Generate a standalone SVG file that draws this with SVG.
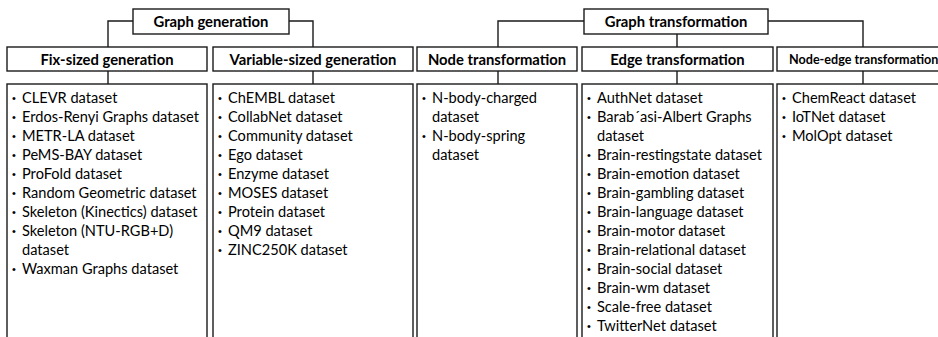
<svg xmlns="http://www.w3.org/2000/svg" width="938" height="337" viewBox="0 0 938 337">
<style>
.box{fill:#fff;stroke:#1a1a1a;stroke-width:1.4}
.ln{fill:none;stroke:#1a1a1a;stroke-width:1.4}
.h{font-family:Lato,"Liberation Sans",sans-serif;font-weight:bold;font-size:14.8px;fill:#000;text-anchor:middle}
.hs{font-family:Lato,"Liberation Sans",sans-serif;font-weight:bold;font-size:12.6px;fill:#000}
.t{font-family:Lato,"Liberation Sans",sans-serif;font-size:14.6px;fill:#000}
.b{font-family:"Liberation Sans",sans-serif;font-size:11px;fill:#000;text-anchor:middle}
</style>
<rect width="938" height="337" fill="#fff"/>
<g id="connectors">
<path class="ln" d="M133,21H108V47M289,21H313V47"/>
<path class="ln" d="M108,71V84M313,71V84"/>
<path class="ln" d="M584,21H498V47M677,34V47M768,21H863V47"/>
<path class="ln" d="M498,71V84M677,71V84M863,71V84"/>
</g>
<g id="graph-generation">
<rect class="box" x="133" y="9" width="156" height="25"/>
<text class="h" x="211" y="26.5">Graph generation</text>
</g>
<g id="graph-transformation">
<rect class="box" x="584" y="9" width="184" height="25"/>
<text class="h" x="676" y="26.5">Graph transformation</text>
</g>
<g id="fix-sized">
<rect class="box" x="7" y="47" width="200" height="24"/>
<text class="h" x="107" y="64.5">Fix-sized generation</text>
</g>
<g id="variable-sized">
<rect class="box" x="213" y="47" width="200" height="24"/>
<text class="h" x="313" y="64.5">Variable-sized generation</text>
</g>
<g id="node-transformation">
<rect class="box" x="417" y="47" width="160" height="24"/>
<text class="h" x="497" y="64.5">Node transformation</text>
</g>
<g id="edge-transformation">
<rect class="box" x="582" y="47" width="191" height="24"/>
<text class="h" x="677.5" y="64.5">Edge transformation</text>
</g>
<g id="node-edge-transformation">
<rect class="box" x="777" y="47" width="175" height="24"/>
<text class="hs" x="789" y="63.5">Node-edge transformation</text>
</g>
<g id="fix-sized-list">
<rect class="box" x="7" y="84" width="200" height="270"/>
<g class="b"><text x="14" y="102">•</text><text x="14" y="121">•</text><text x="14" y="140">•</text><text x="14" y="159">•</text><text x="14" y="178">•</text><text x="14" y="197">•</text><text x="14" y="216">•</text><text x="14" y="235">•</text><text x="14" y="273">•</text></g>
<text class="t" x="22" y="103">CLEVR dataset</text>
<text class="t" x="22" y="122">Erdos-Renyi Graphs dataset</text>
<text class="t" x="22" y="141">METR-LA dataset</text>
<text class="t" x="22" y="160">PeMS-BAY dataset</text>
<text class="t" x="22" y="179">ProFold dataset</text>
<text class="t" x="22" y="198">Random Geometric dataset</text>
<text class="t" x="22" y="217">Skeleton (Kinectics) dataset</text>
<text class="t" x="22" y="236">Skeleton (NTU-RGB+D)</text>
<text class="t" x="22" y="255">dataset</text>
<text class="t" x="22" y="274">Waxman Graphs dataset</text>
</g>
<g id="variable-sized-list">
<rect class="box" x="213" y="84" width="200" height="270"/>
<g class="b"><text x="220" y="102">•</text><text x="220" y="121">•</text><text x="220" y="140">•</text><text x="220" y="159">•</text><text x="220" y="178">•</text><text x="220" y="197">•</text><text x="220" y="216">•</text><text x="220" y="235">•</text><text x="220" y="254">•</text></g>
<text class="t" x="228" y="103">ChEMBL dataset</text>
<text class="t" x="228" y="122">CollabNet dataset</text>
<text class="t" x="228" y="141">Community dataset</text>
<text class="t" x="228" y="160">Ego dataset</text>
<text class="t" x="228" y="179">Enzyme dataset</text>
<text class="t" x="228" y="198">MOSES dataset</text>
<text class="t" x="228" y="217">Protein dataset</text>
<text class="t" x="228" y="236">QM9 dataset</text>
<text class="t" x="228" y="255">ZINC250K dataset</text>
</g>
<g id="node-transformation-list">
<rect class="box" x="417" y="84" width="160" height="270"/>
<g class="b"><text x="424" y="102">•</text><text x="424" y="140">•</text></g>
<text class="t" x="432" y="103">N-body-charged</text>
<text class="t" x="432" y="122">dataset</text>
<text class="t" x="432" y="141">N-body-spring</text>
<text class="t" x="432" y="160">dataset</text>
</g>
<g id="edge-transformation-list">
<rect class="box" x="582" y="84" width="191" height="270"/>
<g class="b"><text x="589" y="102">•</text><text x="589" y="121">•</text><text x="589" y="159">•</text><text x="589" y="178">•</text><text x="589" y="197">•</text><text x="589" y="216">•</text><text x="589" y="235">•</text><text x="589" y="254">•</text><text x="589" y="273">•</text><text x="589" y="292">•</text><text x="589" y="311">•</text><text x="589" y="330">•</text></g>
<text class="t" x="597" y="103">AuthNet dataset</text>
<text class="t" x="597" y="122">Barab´asi-Albert Graphs</text>
<text class="t" x="597" y="141">dataset</text>
<text class="t" x="597" y="160">Brain-restingstate dataset</text>
<text class="t" x="597" y="179">Brain-emotion dataset</text>
<text class="t" x="597" y="198">Brain-gambling dataset</text>
<text class="t" x="597" y="217">Brain-language dataset</text>
<text class="t" x="597" y="236">Brain-motor dataset</text>
<text class="t" x="597" y="255">Brain-relational dataset</text>
<text class="t" x="597" y="274">Brain-social dataset</text>
<text class="t" x="597" y="293">Brain-wm dataset</text>
<text class="t" x="597" y="312">Scale-free dataset</text>
<text class="t" x="597" y="331">TwitterNet dataset</text>
</g>
<g id="node-edge-transformation-list">
<rect class="box" x="777" y="84" width="175" height="270"/>
<g class="b"><text x="784" y="102">•</text><text x="784" y="121">•</text><text x="784" y="140">•</text></g>
<text class="t" x="792" y="103">ChemReact dataset</text>
<text class="t" x="792" y="122">IoTNet dataset</text>
<text class="t" x="792" y="141">MolOpt dataset</text>
</g>
</svg>
